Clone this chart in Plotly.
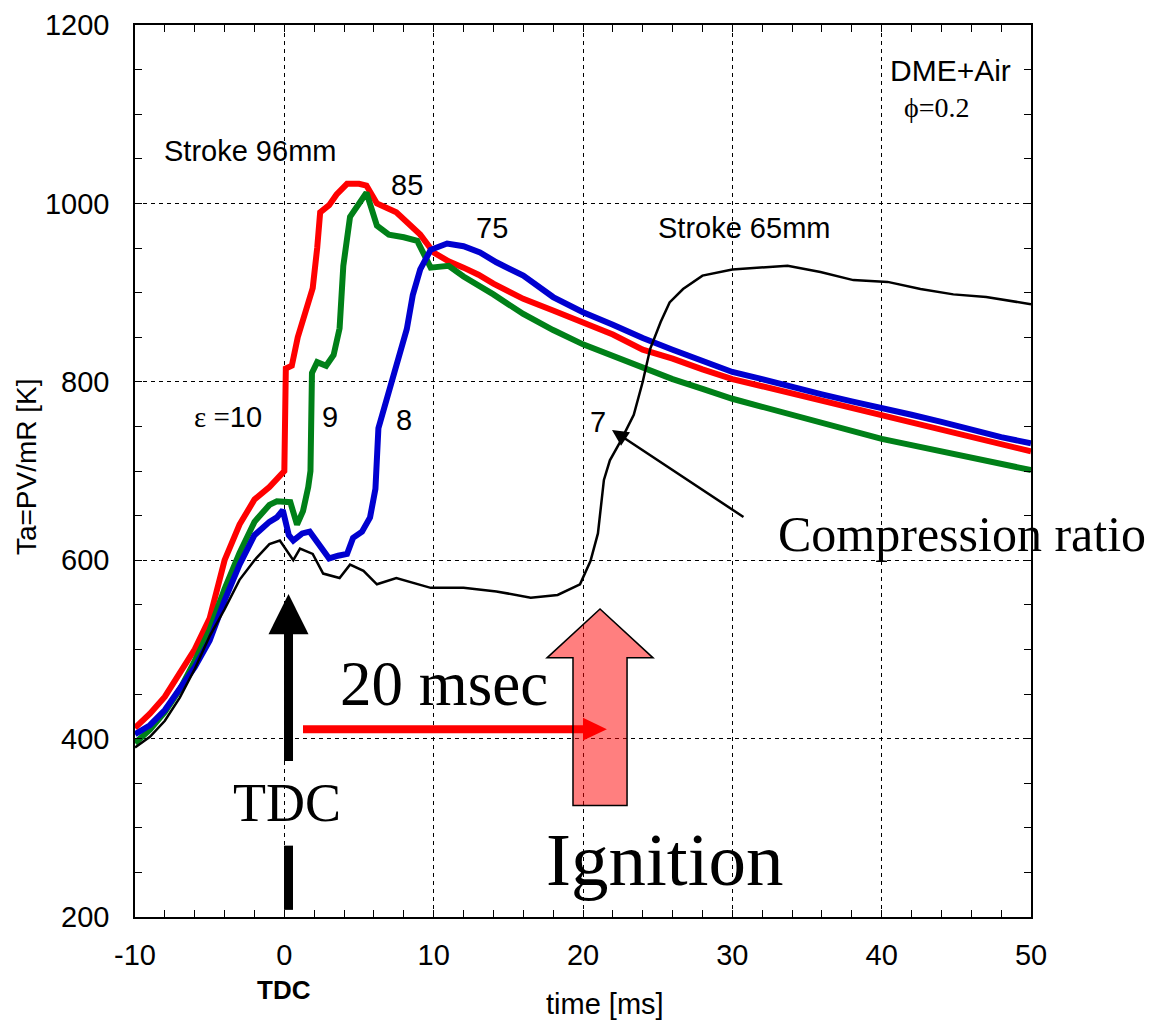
import plotly.graph_objects as go

# ---------------- data ----------------
t_red = [-10, -9, -8, -7, -6, -5, -4, -3, -2, -1, -0.5, 0, 0.1, 0.5, 0.9, 1.5, 1.9, 2.2, 2.4,
         3.0, 3.5, 4.2, 5.0, 5.5, 6.2, 7.5, 8.5, 9.1, 10, 11, 12, 13, 14, 16, 18, 20, 22, 24,
         26, 28, 30, 32, 34, 36, 38, 40, 42, 44, 46, 48, 50]
T_red = [412, 428, 447, 472, 500, 535, 600, 640, 668, 682, 690, 700, 815, 818, 850, 880, 905, 950, 990,
         998, 1010, 1022, 1022, 1020, 1000, 990, 975, 965, 945, 935, 928, 920, 910, 893, 880, 866, 853, 836,
         826, 814, 803, 795, 787, 779, 771, 763, 754, 746, 738, 730, 722]

t_green = [-10, -9, -8, -7, -6, -5, -4, -3, -2, -1, -0.5, 0.4, 0.85, 1.25, 1.6, 1.75, 1.85, 2.2, 2.8,
           3.3, 3.7, 3.95, 4.4, 5.0, 5.5, 6.2, 7.0, 8.0, 8.9, 9.8, 11, 12, 14, 16, 18, 20, 22, 24,
           26, 28, 30, 32, 34, 36, 38, 40, 42, 44, 46, 48, 50]
T_green = [395, 410, 430, 455, 487, 522, 568, 608, 643, 662, 666, 665, 640, 655, 682, 700, 810, 822, 818,
           830, 860, 930, 985, 1000, 1012, 975, 965, 962, 958, 928, 930, 918, 898, 876, 858, 842, 829, 815,
           803, 792, 781, 772, 763, 754, 745, 736, 729, 722, 715, 708, 701]

t_blue = [-10, -9, -8, -7, -6, -5, -4, -3, -2, -1, -0.5, -0.1, 0.3, 0.6, 1.2, 1.7, 2.4, 3.0, 3.6, 4.2,
          4.6, 5.2, 5.74, 6.1, 6.3, 6.9, 7.5, 8.2, 8.6, 9.1, 9.8, 10.9, 12, 13.1, 14.2, 16, 18, 20,
          22, 24, 26, 28, 30, 32, 34, 36, 38, 40, 42, 44, 46, 48, 50]
T_blue = [405, 415, 432, 456, 480, 510, 555, 595, 628, 643, 648, 656, 628, 622, 630, 632, 615, 602, 605, 607,
          625, 632, 648, 680, 748, 785, 822, 859, 897, 926, 948, 955, 952, 945, 934, 919, 895, 878,
          864, 849, 836, 824, 811, 803, 794, 786, 778, 771, 763, 755, 746, 738, 731]

t_black = [-10, -9, -8, -7, -6, -5, -4, -3, -2, -1, -0.3, 0.6, 1.05, 1.9, 2.6, 3.7, 4.4, 5.3, 6.2, 7.5,
           9.8, 12, 14.2, 16.5, 18.3, 19.8, 20.5, 21, 21.4, 21.8, 22.5, 23.4, 24, 24.5, 25.2, 25.8,
           26.7, 28, 30, 33.7, 35.9, 38.1, 40.4, 42.6, 44.8, 47, 50]
T_black = [390, 402, 420, 446, 478, 515, 545, 578, 600, 618, 622, 600, 613, 607, 585, 580, 595, 588, 573, 580,
           569, 569, 565, 558, 561, 573, 599, 630, 690, 712, 733, 763, 800, 837, 867, 889,
           904, 919, 926, 930, 923, 914, 912, 904, 898, 895, 887]

x_ticks = [-10, 0, 10, 20, 30, 40, 50]
x_tick_labels = ["-10", "0", "10", "20", "30", "40", "50"]
y_ticks = [200, 400, 600, 800, 1000, 1200]
y_tick_labels = ["200", "400", "600", "800", "1000", "1200"]

SANS = "Liberation Sans, Arial, sans-serif"
SERIF = "Liberation Serif, Times New Roman, serif"

fig = go.Figure()
fig.add_trace(go.Scatter(x=t_red, y=T_red, mode="lines", line=dict(color="#FF0000", width=6), name="10"))
fig.add_trace(go.Scatter(x=t_green, y=T_green, mode="lines", line=dict(color="#008018", width=6), name="9"))
fig.add_trace(go.Scatter(x=t_blue, y=T_blue, mode="lines", line=dict(color="#0000D0", width=6), name="8"))
fig.add_trace(go.Scatter(x=t_black, y=T_black, mode="lines", line=dict(color="#000000", width=2.5), name="7"))

axis_common = dict(
    showline=True, linecolor="black", linewidth=1.5, mirror="ticks",
    ticks="inside", ticklen=7, tickcolor="black", tickwidth=1,
    showgrid=True, gridcolor="black", gridwidth=1, griddash="4px,4px",
    zeroline=False, tickfont=dict(family=SANS, size=29, color="black"),
    ticklabeloverflow="allow", automargin=False,
)
fig.update_xaxes(range=[-10, 50], tickvals=x_ticks, ticktext=x_tick_labels,
                 minor=dict(dtick=2, ticks="inside", ticklen=7, tickcolor="black", showgrid=False),
                 ticklabelstandoff=11, **axis_common)
fig.update_yaxes(range=[200, 1200], tickvals=y_ticks, ticktext=y_tick_labels,
                 minor=dict(dtick=50, ticks="inside", ticklen=7, tickcolor="black", showgrid=False),
                 ticklabelstandoff=18, **axis_common)

shapes = []
# TDC black arrow (shaft + head) and lower bar
shapes.append(dict(type="line", xref="x", yref="y", x0=0.28, x1=0.28, y0=375, y1=522,
                   line=dict(color="black", width=9, dash="solid")))
shapes.append(dict(type="path", xref="x", yref="y",
                   path="M -1.06,517 L 1.62,517 L 0.28,562 Z", fillcolor="black",
                   line=dict(width=0, dash="solid")))
shapes.append(dict(type="line", xref="x", yref="y", x0=0.28, x1=0.28, y0=208, y1=280,
                   line=dict(color="black", width=9, dash="solid")))
# red 20 msec arrow
shapes.append(dict(type="line", xref="x", yref="y", x0=1.25, x1=20.2, y0=410.6, y1=410.6,
                   line=dict(color="#FF0000", width=8, dash="solid")))
shapes.append(dict(type="path", xref="x", yref="y",
                   path="M 20.0,423.5 L 20.0,397.8 L 21.6,410.6 Z", fillcolor="#FF0000",
                   line=dict(width=0, dash="solid")))
# pink block arrow (ignition)
shapes.append(dict(type="path", xref="x", yref="y", layer="above",
                   path="M 19.33,325 L 19.33,490.5 L 17.59,490.5 L 21.14,545.3 L 24.69,490.5 "
                        "L 22.95,490.5 L 22.95,325 Z",
                   fillcolor="rgba(255,0,0,0.5)", line=dict(color="black", width=1.5, dash="solid")))
fig.update_layout(shapes=shapes)

ann = []
def txt(x, y, s, size, family=SANS, xref="x", yref="y", **kw):
    ann.append(dict(x=x, y=y, xref=xref, yref=yref, text=s, showarrow=False,
                    font=dict(family=family, size=size, color="black"),
                    xanchor="center", yanchor="middle", **kw))

txt(-2.30, 1059, "Stroke 96mm", 29)
txt(8.21, 1021, "85", 29)
txt(13.91, 972, "75", 29)
txt(30.78, 972, "Stroke 65mm", 29)
txt(44.58, 1149, "DME+Air", 30)
txt(43.71, 1108, "ϕ=0.2", 28, family=SERIF)
txt(-3.77, 761, "<span style='font-family:Liberation Serif'>ε =</span>10", 29)
txt(3.06, 761, "9", 29)
txt(8.01, 757, "8", 29)
txt(21.0, 755, "7", 29)
txt(45.35, 629, "Compression ratio", 50, family=SERIF)
txt(10.69, 461, "20 msec", 63, family=SERIF)
txt(0.18, 328, "TDC", 54, family=SERIF)
txt(25.49, 265, "Ignition", 75, family=SERIF)
txt(0, -0.0816, "<b>TDC</b>", 26, yref="paper")
txt(21.47, -0.097, "time [ms]", 29, yref="paper")
txt(-0.121, 0.505, "Ta=PV/mR [K]", 28, xref="paper", yref="paper", textangle=-90)

# compression ratio arrow
ann.append(dict(x=21.94, y=746, xref="x", yref="y", ax=133, ay=88, text="",
                showarrow=True, arrowhead=2, arrowsize=1.3, arrowwidth=2.5, arrowcolor="black"))
fig.update_layout(annotations=ann)

# page body adds an 8px margin, so the figure is 8px smaller and margins shifted
fig.update_layout(width=1151, height=1016, margin=dict(l=127, r=128, t=17, b=107),
                  plot_bgcolor="white", paper_bgcolor="white", showlegend=False)
fig.write_html("out.html")
